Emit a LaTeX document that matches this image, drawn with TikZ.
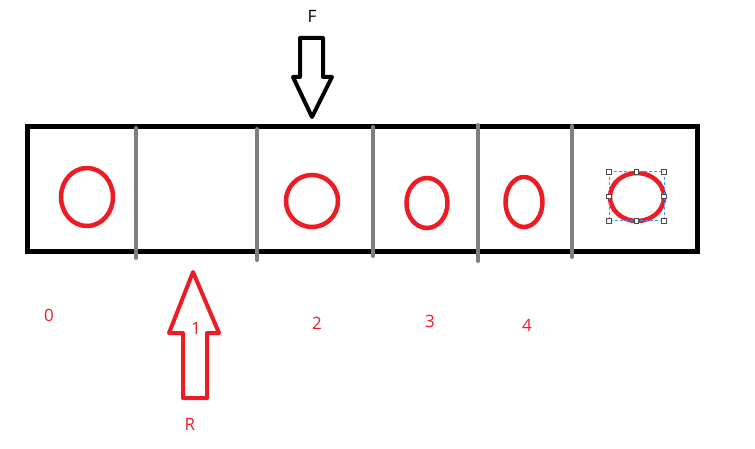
\documentclass[tikz,border=0pt]{standalone}
\usepackage{fontspec}
\setmainfont{Open Sans}
\definecolor{paintred}{RGB}{237,28,36}
\definecolor{paintgray}{RGB}{127,127,127}
\definecolor{selblue}{RGB}{51,153,255}
\begin{document}
\begin{tikzpicture}[x=1pt,y=-1pt,
  lbl/.style={text=paintred,font=\fontsize{17}{20}\selectfont,inner sep=0pt},
  blockarrow/.style={line width=4pt,line join=round,fill=white},
  handle/.style={draw=black!70,fill=white,line width=0.8pt,minimum size=4.5pt,inner sep=0pt}]
\useasboundingbox (0,0) rectangle (755,449);
\draw[line width=5pt] (27,126.5) rectangle (697,251.5);
\foreach \x/\ya/\yb in {136/128/258,257/129/260,373/127/256,478/125/261,572/126/257} {
  \draw[paintgray,line width=4pt,line cap=round] (\x,\ya) -- (\x,\yb);
}
\foreach \cx/\cy/\rx/\ry in {87/197/26/29,312/201/26/26,427/203/20.5/25,524/202/18.5/25,637/197/27/24} {
  \draw[paintred,line width=4.5pt] (\cx,\cy) ellipse ({\rx} and {\ry});
}
\draw[selblue,line width=1pt,dash pattern=on 3pt off 2pt] (609,172) rectangle (664,221);
\foreach \hx/\hy in {609/172,636.5/172,664/172,609/196.5,664/196.5,609/221,636.5/221,664/221} {
  \node[handle] at (\hx,\hy) {};
}
\draw[blockarrow] (300,38) -- (323,38) -- (323,77) -- (332,77) -- (312,117)
  -- (293,77) -- (300,77) -- cycle;
\draw[blockarrow,draw=paintred] (193,272) -- (219,333) -- (207,333) -- (207,398)
  -- (183,398) -- (183,333) -- (169,333) -- cycle;
\node[lbl,text=black] (force) at (312,16) {F};
\node[lbl] (rlabel) at (190,424) {R};
\node[lbl] (n0) at (49,315) {0};
\node[lbl] (n1) at (196,328) {1};
\node[lbl] (n2) at (317,323) {2};
\node[lbl] (n3) at (430,321) {3};
\node[lbl] (n4) at (527,325) {4};
\end{tikzpicture}
\end{document}
